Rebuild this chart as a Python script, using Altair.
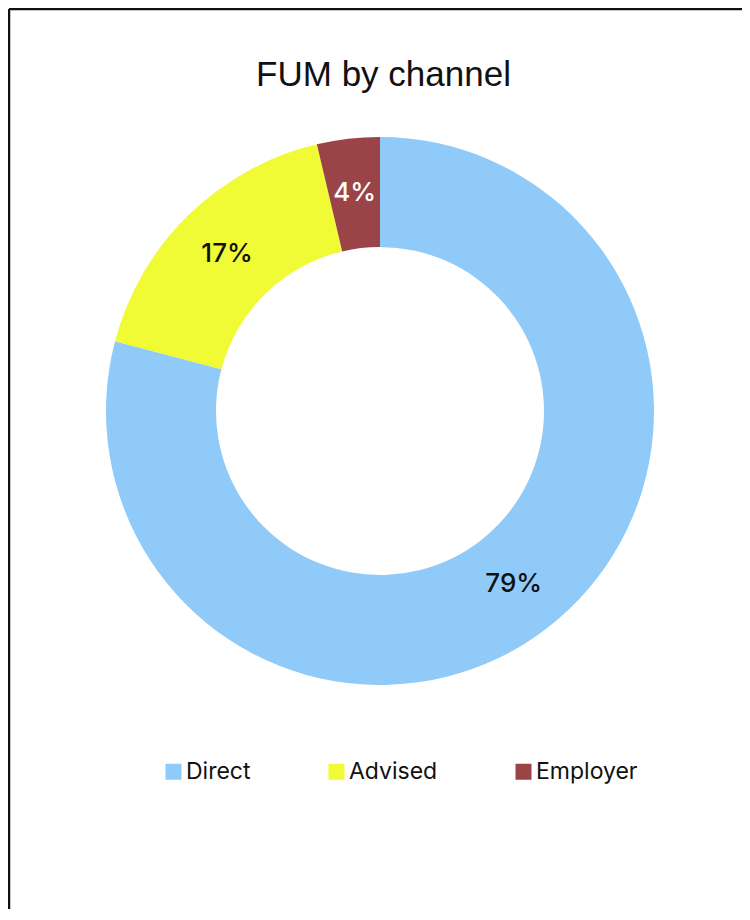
import altair as alt
import pandas as pd

# ---- data ----
channels = ["Direct", "Advised", "Employer"]
shares = [79.1, 17.2, 3.7]
labels = ["79%", "17%", "4%"]
slice_colors = ["#90CAF8", "#F0FA35", "#9A4447"]
label_colors = ["#111111", "#111111", "#FFFFFF"]
stack_order = [0, 1, 2]
chart_title = "FUM by channel"

df = pd.DataFrame({
    "channel": channels,
    "share": shares,
    "label": labels,
    "lc": label_colors,
    "idx": stack_order,
})

W, H = 733, 900
CX, CY = 371, 402

base = alt.Chart(df).encode(
    theta=alt.Theta("share:Q", stack=True),
    order=alt.Order("idx:Q"),
)

arcs = base.mark_arc(outerRadius=274, innerRadius=164).encode(
    color=alt.Color(
        "channel:N",
        scale=alt.Scale(domain=channels, range=slice_colors),
        legend=alt.Legend(
            title=None,
            orient="none",
            legendX=153,
            legendY=751,
            direction="horizontal",
            symbolType="square",
            symbolSize=256,
            symbolStrokeWidth=0,
            symbolOpacity=1,
            labelFont="Inter",
            labelFontSize=23,
            labelColor="#111111",
            labelOffset=1,
            columnPadding=74,
            padding=0,
        ),
    ),
    x=alt.value(CX),
    y=alt.value(CY),
)

texts = base.mark_text(radius=219, font="Inter", fontSize=26, fontWeight=500).encode(
    text="label:N",
    color=alt.Color("lc:N", scale=None),
    x=alt.value(CX),
    y=alt.value(CY),
)

title_mark = alt.Chart(pd.DataFrame({"t": [chart_title]})).mark_text(
    font="Liberation Sans", fontSize=35, color="#111111", baseline="alphabetic", align="center"
).encode(text="t:N", x=alt.value(374.5), y=alt.value(77))

frame = pd.DataFrame({"k": [0]})
top_rule = alt.Chart(frame).mark_rule(color="#111111", strokeWidth=2.5).encode(
    x=alt.value(0), x2=alt.value(W), y=alt.value(0)
)
left_rule = alt.Chart(frame).mark_rule(color="#111111", strokeWidth=2.5).encode(
    x=alt.value(0), y=alt.value(0), y2=alt.value(H)
)

chart = alt.layer(arcs, texts, title_mark, top_rule, left_rule).resolve_scale(
    color="independent"
).properties(
    width=W,
    height=H,
    autosize=alt.AutoSizeParams(type="none"),
    padding={"left": 1, "top": 1, "right": 0, "bottom": 0},
    background="white",
).configure_view(strokeWidth=0)

chart.save("out.html", embed_options={"renderer": "svg", "actions": False})
